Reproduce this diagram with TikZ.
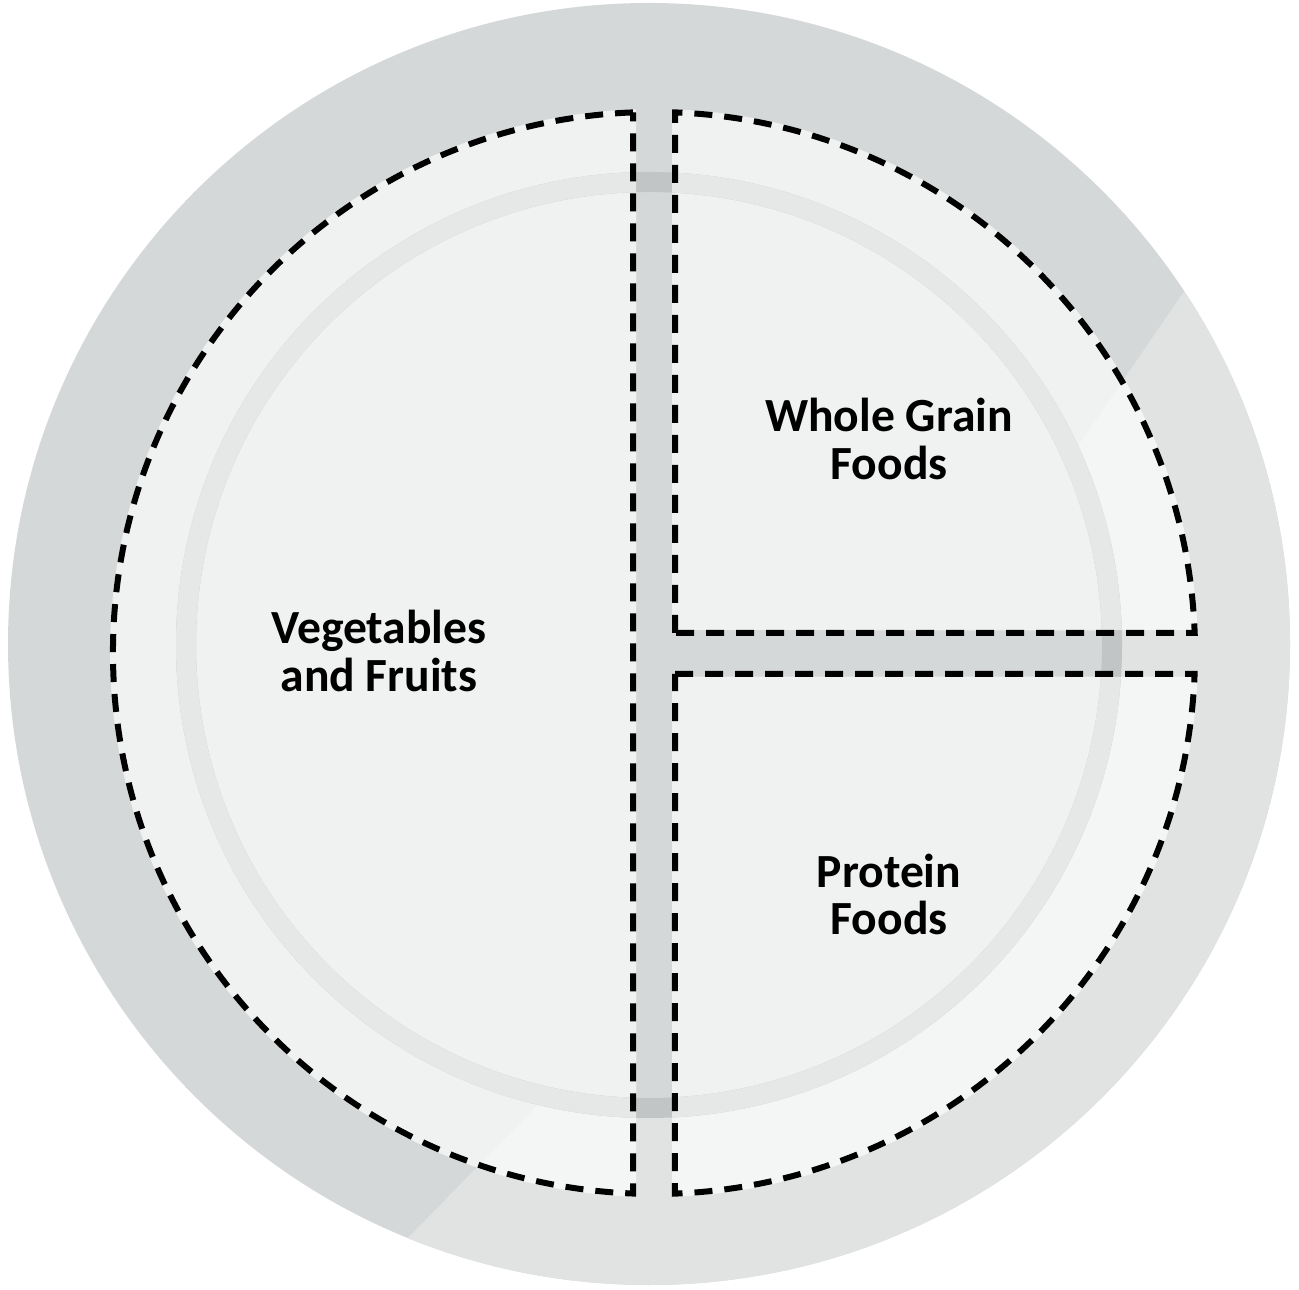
\documentclass[tikz,border=0pt]{standalone}
\usepackage{fontspec}
\setmainfont{Carlito}
\definecolor{platedark}{HTML}{D5D8D9}
\definecolor{platelight}{HTML}{E1E3E3}
\definecolor{dish}{HTML}{F0F1F1}
\definecolor{dishlight}{HTML}{F4F5F5}
\definecolor{ringdish}{HTML}{E6E8E8}
\definecolor{ringgutter}{HTML}{C2C5C6}
\begin{document}
\begin{tikzpicture}[x=0.5pt,y=0.5pt,
  dashline/.style={line width=3pt, dash pattern=on 9pt off 6pt, line join=miter, miter limit=10},
  foodtext/.style={font=\fontsize{23.8pt}{23.6pt}\selectfont\bfseries, align=center, text=black, inner sep=0pt},
  lightzone/.style={insert path={(1298,1164) -- (1185,999) .. controls (837.6,491.5) .. (408,51) -- (268,-92) -- (1500,-200) -- (1500,1164) -- cycle}},
  dishL/.style={insert path={(636,1179.7) arc[start angle=91.90, end angle=268.10, radius=544] -- cycle}},
  dishUR/.style={insert path={(672,659) -- (672,1179.7) arc[start angle=88.10, end angle=2.42, radius=544] -- cycle}},
  dishLR/.style={insert path={(672,612) -- (1197.5,612) arc[start angle=-2.53, end angle=-88.10, radius=544] -- cycle}}]
\useasboundingbox[fill=white] (0,0) rectangle (1299,1289);
% plate
\fill[platedark] (649,645) circle[radius=641];
\begin{scope}
  \clip (649,645) circle[radius=641];
  \fill[platelight, lightzone];
\end{scope}
% well inside the rim
\fill[platedark] (649,644) circle[radius=473];
% dish regions
\fill[dish, dishL];
\fill[dish, dishUR];
\fill[dish, dishLR];
\begin{scope}
  \clip[lightzone];
  \fill[dishlight, dishL];
  \fill[dishlight, dishUR];
  \fill[dishlight, dishLR];
\end{scope}
\begin{scope}
  \clip (649,644) circle[radius=453];
  \fill[dish, dishL];
  \fill[dish, dishUR];
  \fill[dish, dishLR];
\end{scope}
% rim ring
\draw[ringgutter, line width=10pt] (649,644) circle[radius=463];
\begin{scope}
  \clip[dishL];
  \draw[ringdish, line width=10pt] (649,644) circle[radius=463];
\end{scope}
\begin{scope}
  \clip[dishUR];
  \draw[ringdish, line width=10pt] (649,644) circle[radius=463];
\end{scope}
\begin{scope}
  \clip[dishLR];
  \draw[ringdish, line width=10pt] (649,644) circle[radius=463];
\end{scope}
% dashed outlines
\draw[dashline] (633,1176.6) arc[start angle=92.22, end angle=267.78, radius=541] -- cycle;
\draw[dashline] (675,656) -- (675,1176.6) arc[start angle=87.78, end angle=2.12, radius=541] -- cycle;
\draw[dashline] (675,615) -- (1194.6,615) arc[start angle=-2.22, end angle=-87.78, radius=541] -- cycle;
% labels
\node[foodtext] (veg) at (379,638) {Vegetables\\and Fruits};
\node[foodtext] (grain) at (889,850) {Whole Grain\\Foods};
\node[foodtext] (prot) at (889,394.5) {Protein\\Foods};
\end{tikzpicture}
\end{document}
